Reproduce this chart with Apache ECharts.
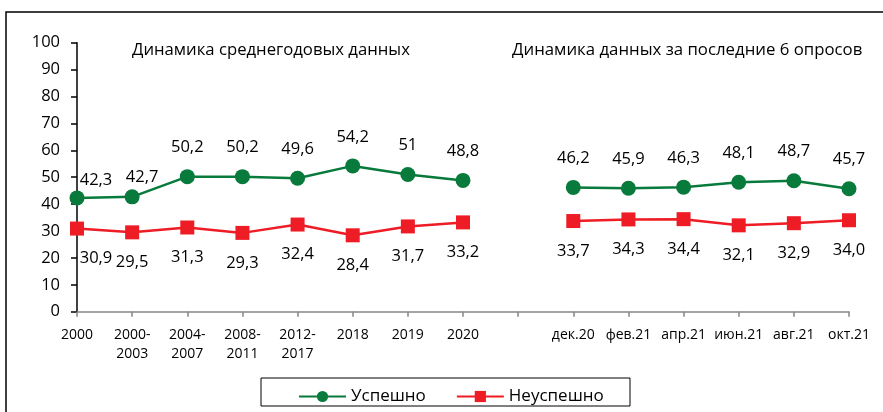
<!DOCTYPE html>
<html>
<head>
<meta charset="utf-8">
<script src="https://cdn.jsdelivr.net/npm/echarts@6/dist/echarts.min.js"></script>
<style>
html,body{margin:0;padding:0;background:#fff;}
#chart{width:883px;height:412px;}
</style>
</head>
<body>
<div id="chart"></div>
<script>
// ---- data ----
var categories = ['2000', '2000-\n2003', '2004-\n2007', '2008-\n2011', '2012-\n2017', '2018', '2019', '2020', '',
  'дек.20', 'фев.21', 'апр.21', 'июн.21', 'авг.21', 'окт.21'];
var successValues = [42.3, 42.7, 50.2, 50.2, 49.6, 54.2, 51, 48.8, null, 46.2, 45.9, 46.3, 48.1, 48.7, 45.7];
var failValues = [30.9, 29.5, 31.3, 29.3, 32.4, 28.4, 31.7, 33.2, null, 33.7, 34.3, 34.4, 32.1, 32.9, 34.0];
var seriesNames = ['Успешно', 'Неуспешно'];
var titleLeft = 'Динамика среднегодовых данных';
var titleRight = 'Динамика данных за последние 6 опросов';

var FONT = '"Open Sans", "Noto Sans", sans-serif';
var GREEN = '#087a3c';
var RED = '#ee1c25';

// label offsets for points whose labels were hand-placed in the original
var successOffsets = {0: [19, -18], 1: [10, -20]};
var failOffsets = {0: [19, 30]};

function buildData(values, special) {
  return values.map(function (v, i) {
    if (v === null) return null;
    var item = {value: v};
    if (special && special[i]) item.label = {offset: special[i]};
    return item;
  });
}

var chart = echarts.init(document.getElementById('chart'), null, {renderer: 'canvas'});
chart.setOption({
  animation: false,
  backgroundColor: '#fff',
  textStyle: {fontFamily: FONT, color: '#000'},
  title: [
    {text: titleLeft, left: 132, top: 42, padding: 0, textStyle: {fontFamily: FONT, fontSize: 16.7, fontWeight: 'normal', color: '#000'}},
    {text: titleRight, left: 512, top: 42, padding: 0, textStyle: {fontFamily: FONT, fontSize: 16.8, fontWeight: 'normal', color: '#000'}}
  ],
  graphic: [
    {type: 'rect', shape: {x: 6, y: 12, width: 1000, height: 600}, style: {fill: 'none', stroke: '#000', lineWidth: 1.5}, silent: true, z: -1},
    {type: 'rect', shape: {x: 261, y: 378, width: 369, height: 28}, style: {fill: '#fff', stroke: '#000', lineWidth: 1}, silent: true, z: 0}
  ],
  legend: {
    left: 293, top: 383,
    itemWidth: 47, itemHeight: 14, itemGap: 30,
    textStyle: {fontFamily: FONT, fontSize: 17, color: '#000'},
    data: seriesNames,
    z: 5
  },
  grid: {left: 77, right: 34, top: 42.7, bottom: 100.3, containLabel: false},
  xAxis: {
    type: 'category',
    data: categories,
    boundaryGap: false,
    axisLine: {show: true, lineStyle: {color: '#868686', width: 1.5}},
    axisTick: {show: true, length: 5, interval: 0, lineStyle: {color: '#868686', width: 1.5}},
    axisLabel: {interval: 0, fontFamily: FONT, fontSize: 14, color: '#000', margin: 14, lineHeight: 19},
    splitLine: {show: false}
  },
  yAxis: {
    type: 'value', min: 0, max: 100, interval: 10,
    axisLine: {show: true, lineStyle: {color: '#000', width: 1.5}},
    axisTick: {show: true, inside: false, length: 6, lineStyle: {color: '#000', width: 1.5}},
    axisLabel: {fontFamily: FONT, fontSize: 16.5, color: '#000', margin: 17},
    splitLine: {show: false}
  },
  series: [
    {
      name: seriesNames[0], type: 'line',
      data: buildData(successValues, successOffsets),
      connectNulls: false,
      symbol: 'circle', symbolSize: 15,
      lineStyle: {color: GREEN, width: 2.5},
      itemStyle: {color: GREEN},
      label: {
        show: true, position: 'inside', offset: [0, -29],
        fontFamily: FONT, fontSize: 16.5, color: '#000',
        formatter: function (p) { return String(p.value).replace('.', ','); }
      },
      z: 3
    },
    {
      name: seriesNames[1], type: 'line',
      data: buildData(failValues, failOffsets),
      connectNulls: false,
      symbol: 'rect', symbolSize: 14,
      lineStyle: {color: RED, width: 2.5},
      itemStyle: {color: RED},
      label: {
        show: true, position: 'inside', offset: [0, 30],
        fontFamily: FONT, fontSize: 16.5, color: '#000',
        formatter: function (p) { return Number(p.value).toFixed(1).replace('.', ','); }
      },
      z: 3
    }
  ]
});
</script>
</body>
</html>
